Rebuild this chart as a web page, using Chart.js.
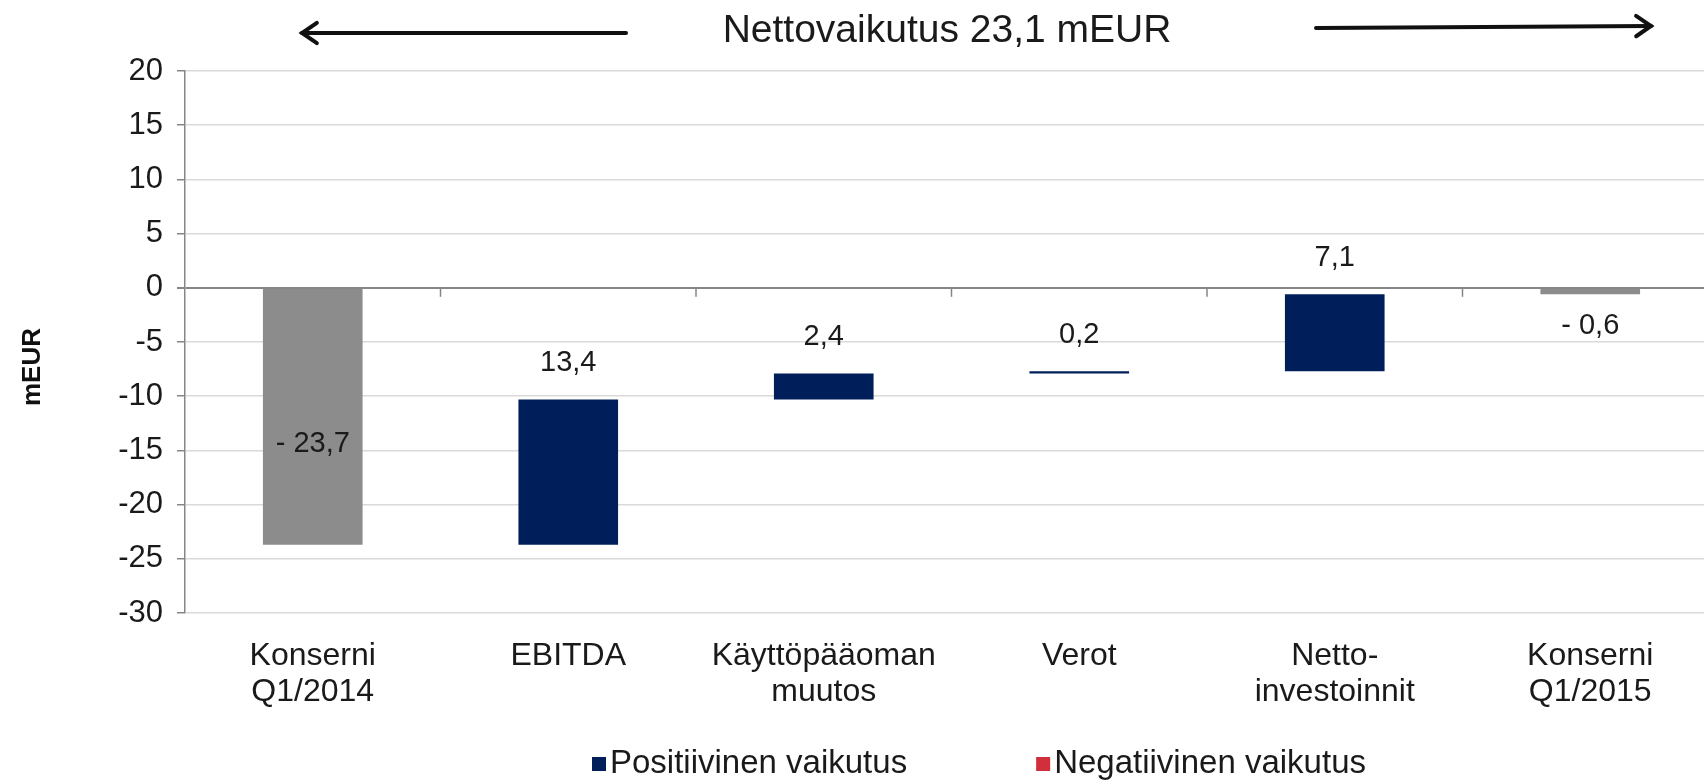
<!DOCTYPE html>
<html>
<head>
<meta charset="utf-8">
<script src="https://cdn.jsdelivr.net/npm/chart.js@4.4.1/dist/chart.umd.min.js"></script>
<style>
html, body { margin: 0; padding: 0; background: #fff; overflow: hidden; }
#wrap { width: 1704px; height: 781px; overflow: hidden; position: relative; }
canvas { display: block; }
</style>
</head>
<body>
<div id="wrap"><canvas id="waterfall" width="1720" height="781"></canvas></div>
<script>
var categories = [["Konserni", "Q1/2014"], "EBITDA", ["Käyttöpääoman", "muutos"], "Verot", ["Netto-", "investoinnit"], ["Konserni", "Q1/2015"]];
var totalValues = [-23.7, null, null, null, null, -0.6];
var changeValues = [null, 13.4, 2.4, 0.2, 7.1, null];
var yTicks = [20, 15, 10, 5, 0, -5, -10, -15, -20, -25, -30];
var legendNames = ["Positiivinen vaikutus", "Negatiivinen vaikutus"];
var headline = "Nettovaikutus 23,1 mEUR";
var axisTitle = "mEUR";

var FONT = "'Liberation Sans', Arial, sans-serif";
var NAVY = "#001e5a";
var GREY = "#8c8c8c";
var RED = "#d22f3c";

// build the floating bars from the running total
var runningTotal = 0;
var totalBars = [], positiveBars = [], negativeBars = [];
for (var i = 0; i < categories.length; i++) {
    if (totalValues[i] !== null) {
        totalBars.push([0, totalValues[i]]);
        positiveBars.push(null);
        negativeBars.push(null);
        runningTotal = totalValues[i];
    } else {
        var next = runningTotal + changeValues[i];
        totalBars.push(null);
        if (changeValues[i] >= 0) {
            positiveBars.push([runningTotal, next]);
            negativeBars.push(null);
        } else {
            positiveBars.push(null);
            negativeBars.push([runningTotal, next]);
        }
        runningTotal = next;
    }
}

var fmt = (v) => {
    var s = Math.abs(v).toFixed(1).replace(".", ",");
    return v < 0 ? "- " + s : s;
};

var drawArrow = (ctx, x1, y1, x2, y2) => {
    // line from (x1,y1) with head at (x2,y2)
    var ang = Math.atan2(y2 - y1, x2 - x1);
    ctx.beginPath();
    ctx.moveTo(x1, y1);
    ctx.lineTo(x2, y2);
    ctx.stroke();
    ctx.beginPath();
    ctx.moveTo(x2 - 18 * Math.cos(ang - 0.6), y2 - 18 * Math.sin(ang - 0.6));
    ctx.lineTo(x2, y2);
    ctx.lineTo(x2 - 18 * Math.cos(ang + 0.6), y2 - 18 * Math.sin(ang + 0.6));
    ctx.stroke();
};

var extrasPlugin = {
    id: "extras",
    afterDraw: (chart) => {
        var ctx = chart.ctx;
        var xs = chart.scales.x, ys = chart.scales.y;
        ctx.save();

        // category separators hanging from the zero line
        var y0 = ys.getPixelForValue(0);
        ctx.strokeStyle = "#868686";
        ctx.lineWidth = 1.5;
        for (var i = 0; i < categories.length - 1; i++) {
            var bx = (xs.getPixelForValue(i) + xs.getPixelForValue(i + 1)) / 2;
            ctx.beginPath();
            ctx.moveTo(bx, y0);
            ctx.lineTo(bx, y0 + 9);
            ctx.stroke();
        }

        // value labels
        ctx.fillStyle = "#1a1a1a";
        ctx.font = "29px " + FONT;
        ctx.textAlign = "center";
        ctx.textBaseline = "middle";
        chart.data.datasets.forEach((ds, di) => {
            var meta = chart.getDatasetMeta(di);
            ds.data.forEach((d, j) => {
                if (!d) return;
                var el = meta.data[j];
                var top = Math.min(el.y, el.base), bottom = Math.max(el.y, el.base);
                var ly;
                if (di === 0) {
                    ly = (bottom - top) > 80 ? (top + bottom) / 2 + 27 : bottom + 32;
                    ctx.fillText(fmt(totalValues[j]), el.x, ly);
                } else {
                    ly = top - 36;
                    ctx.fillText(fmt(changeValues[j]), el.x, ly);
                }
            });
        });

        // headline and arrows
        ctx.fillStyle = "#1a1a1a";
        ctx.font = "39px " + FONT;
        ctx.fillText(headline, 947, 31);
        ctx.strokeStyle = "#111";
        ctx.lineWidth = 4;
        ctx.lineCap = "round";
        drawArrow(ctx, 626, 33, 302, 33);
        drawArrow(ctx, 1316, 28, 1651, 26);

        // y axis title
        ctx.save();
        ctx.translate(33, 367);
        ctx.rotate(-Math.PI / 2);
        ctx.font = "bold 26px " + FONT;
        ctx.fillStyle = "#111";
        ctx.fillText(axisTitle, 0, 0);
        ctx.restore();

        // legend
        var colors = [NAVY, RED];
        var lx = 592, ly2 = 764;
        ctx.font = "33px " + FONT;
        ctx.textAlign = "left";
        legendNames.forEach((name, k) => {
            ctx.fillStyle = colors[k];
            ctx.fillRect(lx, ly2 - 7, 14, 14);
            ctx.fillStyle = "#1a1a1a";
            ctx.fillText(name, lx + 18, ly2);
            lx += 18 + ctx.measureText(name).width + 129;
        });
        ctx.restore();
    }
};

var chart = new Chart(document.getElementById("waterfall").getContext("2d"), {
    type: "bar",
    data: {
        labels: categories,
        datasets: [
            { label: "Konserni", data: totalBars, backgroundColor: GREY },
            { label: legendNames[0], data: positiveBars, backgroundColor: NAVY },
            { label: legendNames[1], data: negativeBars, backgroundColor: RED }
        ]
    },
    options: {
        responsive: false,
        animation: false,
        devicePixelRatio: 1,
        grouped: false,
        categoryPercentage: 1,
        barPercentage: 0.39,
        layout: { padding: { top: 71, right: 2, bottom: 0, left: 0 } },
        plugins: {
            legend: { display: false },
            tooltip: { enabled: false }
        },
        scales: {
            x: {
                grid: { display: false, drawTicks: false },
                border: { display: false },
                ticks: {
                    color: "#1a1a1a",
                    padding: 25,
                    maxRotation: 0,
                    autoSkip: false,
                    font: { family: FONT, size: 32, lineHeight: 1.12 }
                },
                afterFit: (s) => { s.height = 168; }
            },
            y: {
                min: -30,
                max: 20,
                afterBuildTicks: (s) => { s.ticks = yTicks.map((v) => ({ value: v })); },
                grid: {
                    color: (c) => (c.tick && c.tick.value === 0 ? "#868686" : "#dadada"),
                    lineWidth: (c) => (c.tick && c.tick.value === 0 ? 2 : 1.5),
                    tickColor: "#868686",
                    tickLength: 8
                },
                border: { color: "#868686", width: 1.5 },
                ticks: {
                    color: "#1a1a1a",
                    padding: 14,
                    font: { family: FONT, size: 31 }
                },
                afterFit: (s) => { s.width = 185; }
            }
        }
    },
    plugins: [extrasPlugin]
});
</script>
</body>
</html>
